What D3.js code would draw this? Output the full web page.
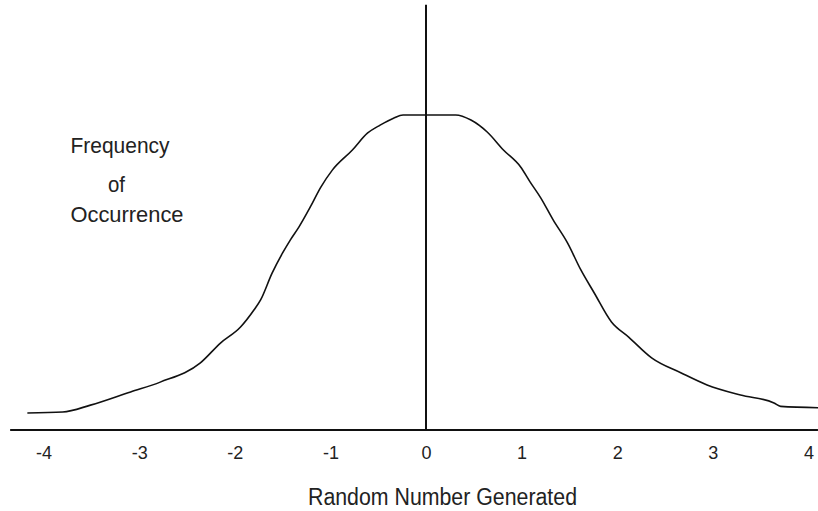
<!DOCTYPE html>
<html>
<head>
<meta charset="utf-8">
<script src="https://cdn.jsdelivr.net/npm/d3@7"></script>
<style>
  html, body { margin: 0; padding: 0; background: #fff; }
  svg { display: block; }
  text { font-family: "Liberation Sans", Arial, sans-serif; fill: #222; }
</style>
</head>
<body>
<svg id="chart" width="818" height="511"></svg>
<script>
// ---- data ----
const xValues = [-4.17, -3.80, -3.51, -3.09, -2.78, -2.36, -2.15, -1.94, -1.80, -1.73,
                 -1.61, -1.50, -1.42, -1.33, -1.21, -1.10, -0.98, -0.77, -0.61, -0.48,
                 -0.34, -0.24, 0.31, 0.47, 0.64, 0.81, 0.99, 1.09, 1.20, 1.33,
                 1.48, 1.62, 1.76, 1.94, 2.12, 2.36, 2.67, 2.94, 3.29, 3.64,
                 3.71, 4.26];
const frequency = [0.054, 0.057, 0.079, 0.121, 0.152, 0.213, 0.276, 0.327, 0.381, 0.413,
                   0.498, 0.562, 0.603, 0.644, 0.708, 0.771, 0.825, 0.889, 0.943, 0.968,
                   0.990, 1.000, 1.000, 0.984, 0.946, 0.889, 0.835, 0.787, 0.737, 0.667,
                   0.594, 0.508, 0.435, 0.343, 0.295, 0.229, 0.181, 0.143, 0.111, 0.086,
                   0.075, 0.070];
const tickValues = [-4, -3, -2, -1, 0, 1, 2, 3, 4];
const tickLabels = ["-4", "-3", "-2", "-1", "0", "1", "2", "3", "4"];
const axisExtent = [-4.35, 4.10];
const verticalExtent = [0, 1.35];
const yLabelLines = ["Frequency", "of", "Occurrence"];
const xTitle = "Random Number Generated";

// ---- scales ----
const svg = d3.select("#chart");
const x = d3.scaleLinear().domain([-4, 4]).range([43.6, 808.4]);
const y = d3.scaleLinear().domain([0, 1]).range([430, 115]);

// curve
const line = d3.line()
  .x((d, i) => x(xValues[i]))
  .y(d => y(d))
  .curve(d3.curveMonotoneX);

svg.append("path")
  .datum(frequency)
  .attr("d", line)
  .attr("fill", "none")
  .attr("stroke", "#111")
  .attr("stroke-width", 1.6);

// horizontal axis line
svg.append("line")
  .attr("x1", x(axisExtent[0])).attr("x2", x(axisExtent[1]))
  .attr("y1", y(0)).attr("y2", y(0))
  .attr("stroke", "#111").attr("stroke-width", 2);

// vertical line at 0
svg.append("line")
  .attr("x1", x(0)).attr("x2", x(0))
  .attr("y1", y(verticalExtent[1])).attr("y2", y(0) + 1)
  .attr("stroke", "#111").attr("stroke-width", 2);

// tick labels via axis
const axis = d3.axisBottom(x)
  .tickValues(tickValues)
  .tickFormat((d, i) => tickLabels[i])
  .tickSize(0)
  .tickPadding(16);

const gAxis = svg.append("g")
  .attr("transform", `translate(0,${y(0)})`)
  .call(axis);
gAxis.select(".domain").remove();
gAxis.selectAll("text")
  .style("font-family", '"Liberation Sans", Arial, sans-serif')
  .style("font-size", "18px")
  .attr("fill", "#222");

// x title
svg.append("text")
  .attr("x", 442.5).attr("y", 505)
  .attr("text-anchor", "middle")
  .attr("font-size", 23)
  .attr("textLength", 269)
  .attr("lengthAdjust", "spacingAndGlyphs")
  .text(xTitle);

// y label (three lines)
const yLab = [
  { t: yLabelLines[0], cx: 120, base: 153, w: 99 },
  { t: yLabelLines[1], cx: 116.5, base: 191.5, w: 17 },
  { t: yLabelLines[2], cx: 127, base: 221.5, w: 113 }
];
svg.selectAll(".ylab").data(yLab).enter().append("text")
  .attr("class", "ylab")
  .attr("x", d => d.cx).attr("y", d => d.base)
  .attr("text-anchor", "middle")
  .attr("font-size", 22.5)
  .attr("textLength", d => d.w)
  .attr("lengthAdjust", "spacingAndGlyphs")
  .text(d => d.t);
</script>
</body>
</html>
